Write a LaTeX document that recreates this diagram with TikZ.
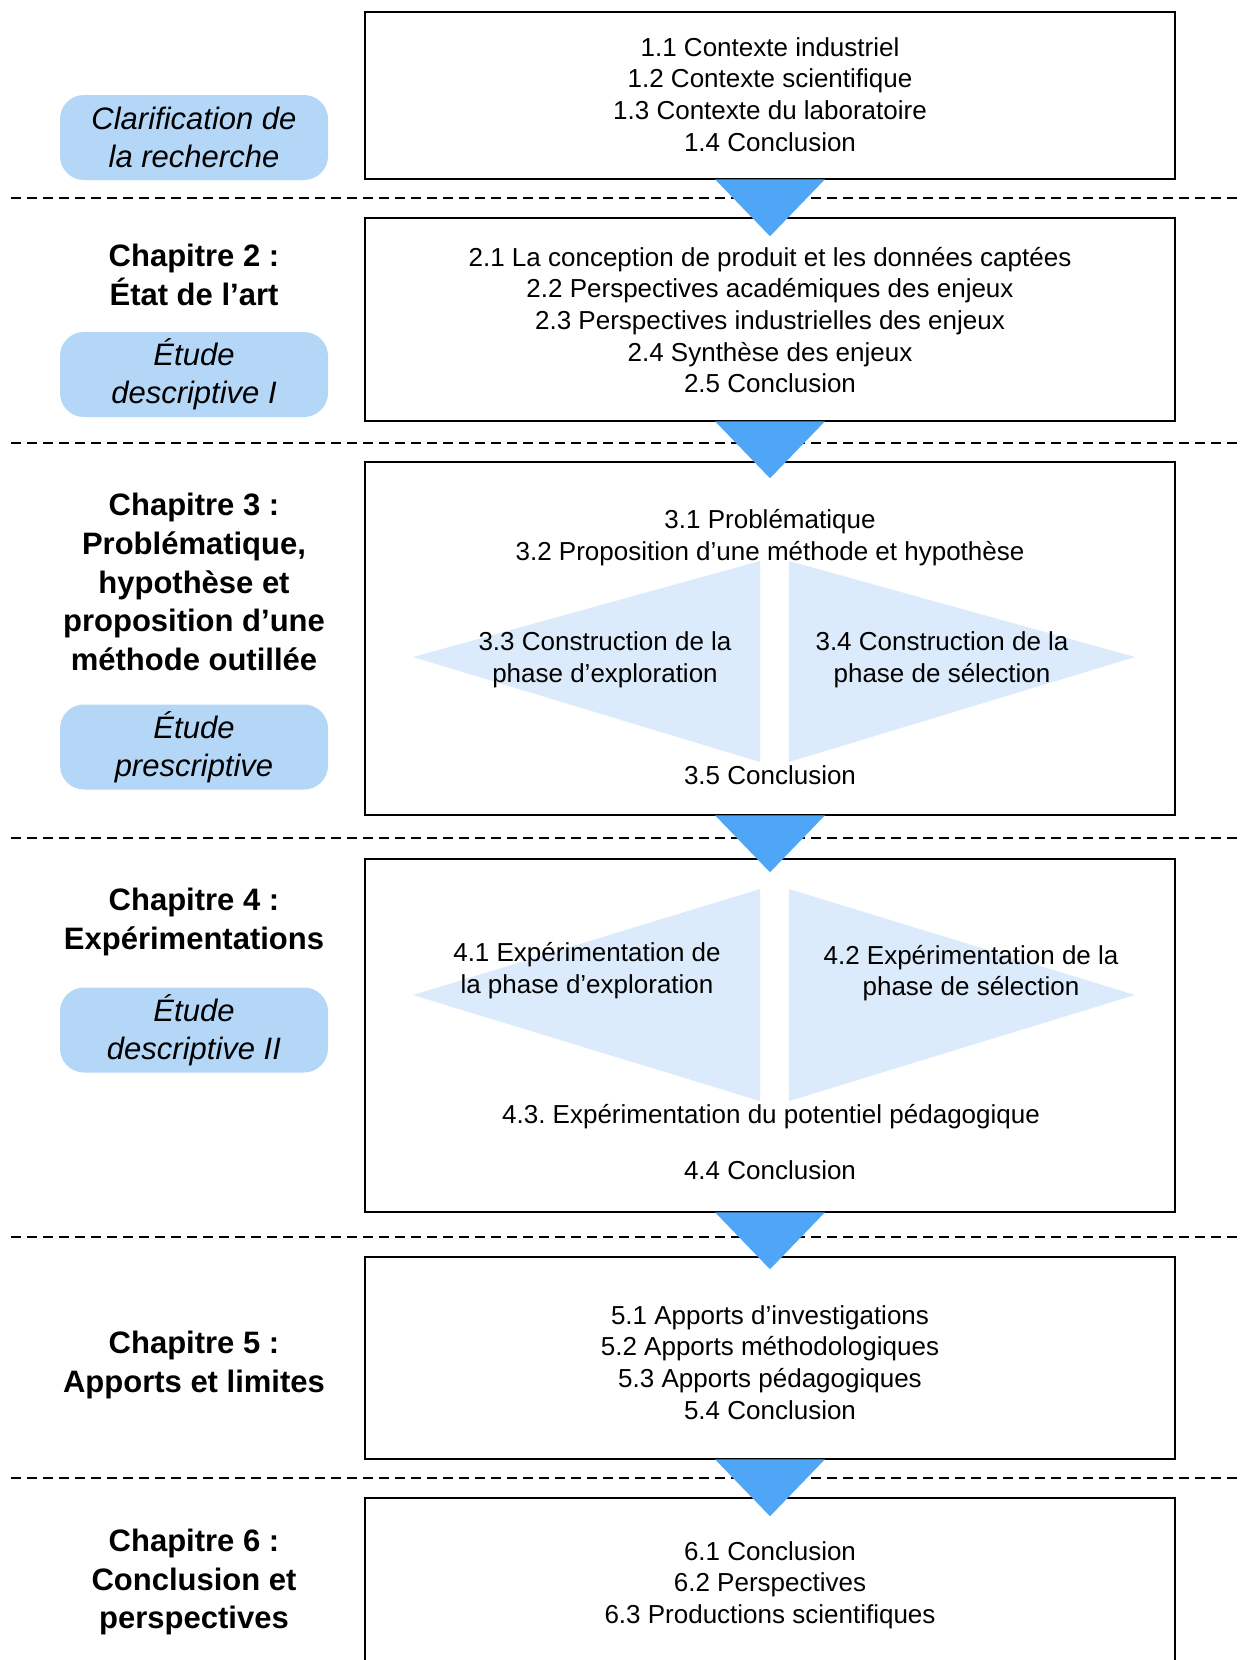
\documentclass[tikz,border=0pt]{standalone}
\usepackage{fontspec}
\setmainfont{Liberation Sans}
\usetikzlibrary{calc}
\definecolor{pillblue}{HTML}{B4D7F8}
\definecolor{arrowblue}{HTML}{4FA6F6}
\definecolor{diamblue}{HTML}{DCEBFB}
\frenchspacing
\tikzset{
  chapbox/.style={draw=black, line width=1.25pt, minimum width=405pt, inner sep=0pt},
  bodytext/.style={font=\fontsize{13}{15.85}\selectfont, align=center, inner sep=0pt},
  chaptitle/.style={font=\fontsize{15.5}{19.3}\selectfont\bfseries, align=center, inner sep=0pt},
  pill/.style={fill=pillblue, rounded corners=12pt, minimum width=134pt, minimum height=42.5pt,
    font=\fontsize{15.5}{19}\selectfont\itshape, align=center, inner sep=0pt},
  sepline/.style={line width=1pt, dash pattern=on 5pt off 3pt},
  halfdiam/.style={fill=diamblue},
  flowarrow/.style={fill=arrowblue}
}
\begin{document}
\begin{tikzpicture}[x=0.5pt,y=-0.5pt]
\clip (0,0) rectangle (1240,1660);
\fill[white] (0,0) rectangle (1240,1660);

% chapter boxes
\node[chapbox, minimum height=83.5pt] (b1) at (770,95.5) {};
\node[chapbox, minimum height=101.5pt] (b2) at (770,319.5) {};
\node[chapbox, minimum height=176.5pt] (b3) at (770,638.5) {};
\node[chapbox, minimum height=176.5pt] (b4) at (770,1035.5) {};
\node[chapbox, minimum height=101pt] (b5) at (770,1358) {};
\node[chapbox, minimum height=91pt] (b6) at (770,1589) {};

% half diamonds
\fill[halfdiam] (413,657) -- (760,561) -- (760,762) -- cycle;
\fill[halfdiam] (789,561) -- (1135,657) -- (789,762) -- cycle;
\fill[halfdiam] (413,995) -- (760,889) -- (760,1101) -- cycle;
\fill[halfdiam] (789,889) -- (1135,995) -- (789,1101) -- cycle;

% box texts
\node[bodytext] (t1) at (770,94.5) {1.1 Contexte industriel\\1.2 Contexte scientifique\\1.3 Contexte du laboratoire\\1.4 Conclusion};
\node[bodytext] (t2) at (770,320) {2.1 La conception de produit et les données captées\\2.2 Perspectives académiques des enjeux\\2.3 Perspectives industrielles des enjeux\\2.4 Synthèse des enjeux\\2.5 Conclusion};
\node[bodytext] (t31) at (770,537.5) {3.1 Problématique\\3.2 Proposition d’une méthode et hypothèse};
\node[bodytext] (t33) at (605,659.5) {3.3 Construction de la\\phase d’exploration};
\node[bodytext] (t34) at (942,659.5) {3.4 Construction de la\\phase de sélection};
\node[bodytext] (t35) at (770,775) {3.5 Conclusion};
\node[bodytext] (t41) at (587,970.5) {4.1 Expérimentation de\\la phase d’exploration};
\node[bodytext] (t42) at (971,973) {4.2 Expérimentation de la\\phase de sélection};
\node[bodytext] (t43) at (771,1117) {4.3. Expérimentation du potentiel pédagogique};
\node[bodytext] (t44) at (770,1170) {4.4 Conclusion};
\node[bodytext] (t5) at (770,1362.5) {5.1 Apports d’investigations\\5.2 Apports méthodologiques\\5.3 Apports pédagogiques\\5.4 Conclusion};
\node[bodytext] (t6) at (770,1585) {6.1 Conclusion\\6.2 Perspectives\\6.3 Productions scientifiques};

% left column
\node[pill] (p1) at (194,137.5) {Clarification de\\la recherche};
\node[chaptitle] (c2) at (194,275) {Chapitre 2 :\\État de l’art};
\node[pill] (p2) at (194,374.5) {Étude\\descriptive I};
\node[chaptitle] (c3) at (194,582) {Chapitre 3 :\\Problématique,\\hypothèse et\\proposition d’une\\méthode outillée};
\node[pill] (p3) at (194,747) {Étude\\prescriptive};
\node[chaptitle] (c4) at (194,922) {Chapitre 4 :\\Expérimentations};
\node[pill] (p4) at (194,1030) {Étude\\descriptive II};
\node[chaptitle] (c5) at (194,1365) {Chapitre 5 :\\Apports et limites};
\node[chaptitle] (c6) at (194,1582) {Chapitre 6 :\\Conclusion et\\perspectives};

% separators
\foreach \yy in {198,443,838,1237,1478}
  \draw[sepline] (11,\yy) -- (1240,\yy);

% arrows between boxes
\foreach \a in {b1,b2,b3,b4,b5}
  \fill[flowarrow] ($(\a.south)+(-55,-1)$) -- ($(\a.south)+(55,-1)$) -- ($(\a.south)+(0,56)$) -- cycle;
\end{tikzpicture}
\end{document}
